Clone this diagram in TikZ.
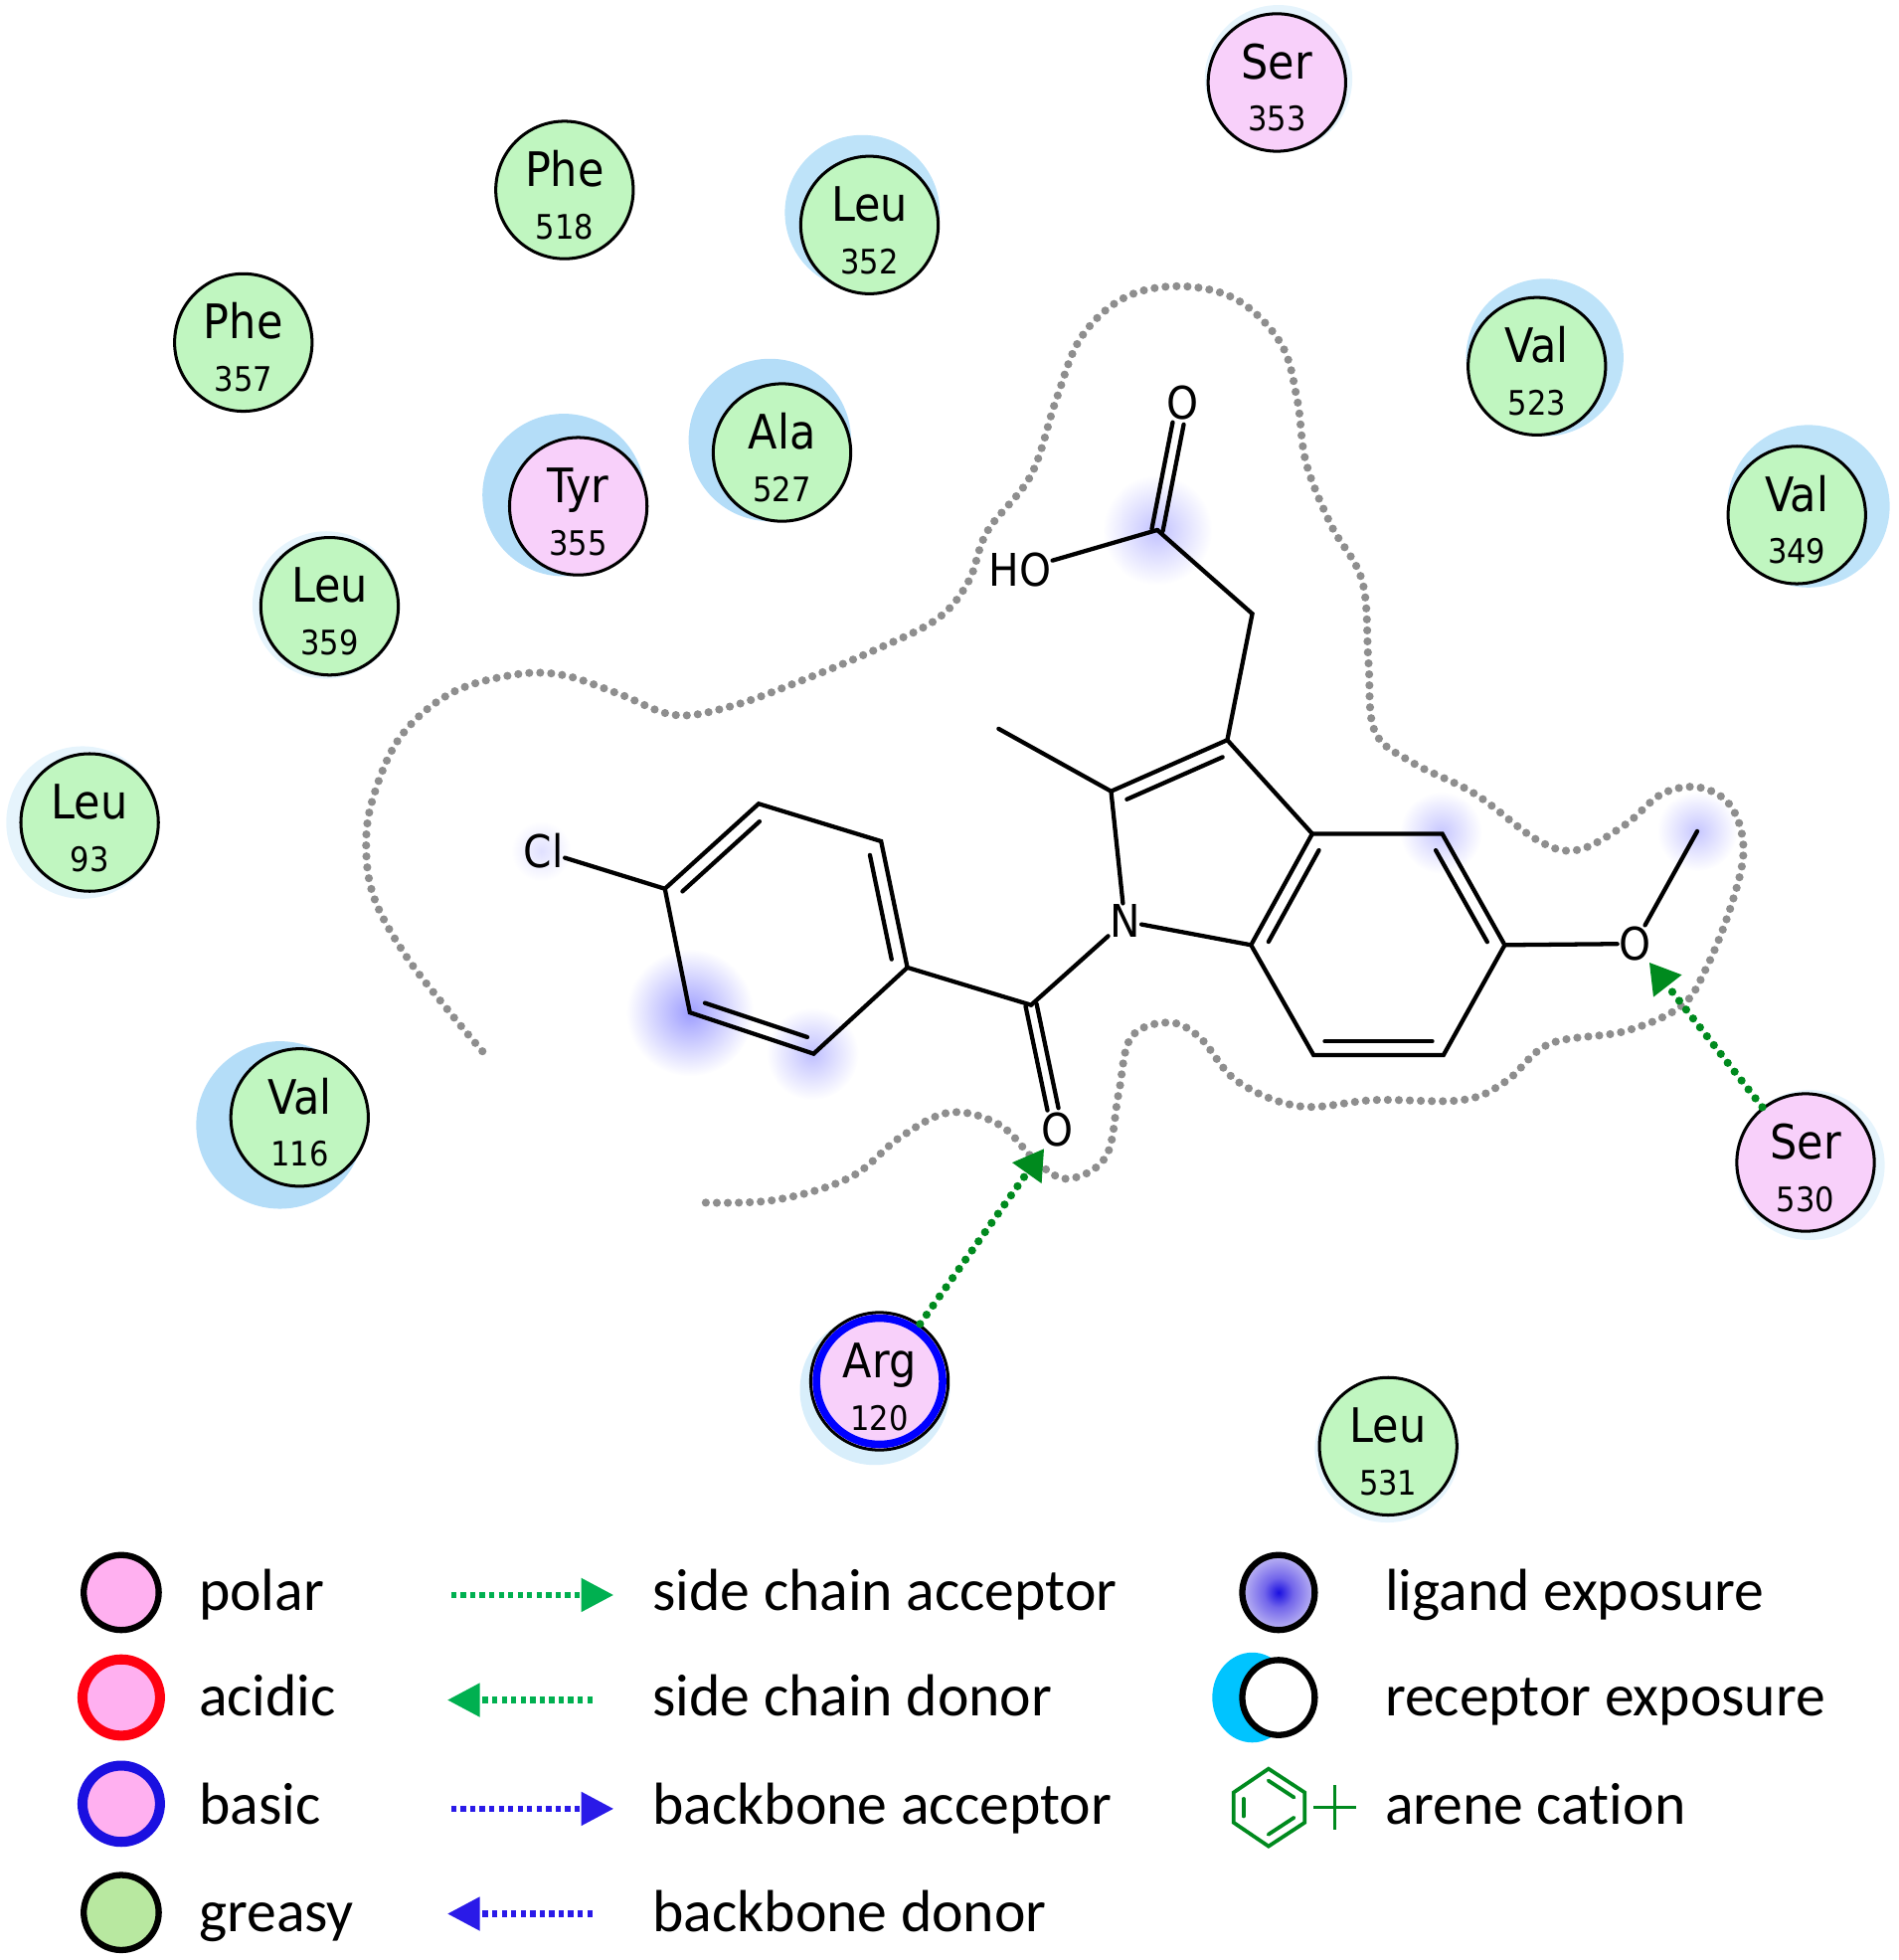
\documentclass[tikz,border=0pt]{standalone}
\usepackage{fontspec}
\setmainfont[Ligatures=NoCommon]{Carlito}
\newfontfamily\labfont{DejaVu Sans Condensed}
\usetikzlibrary{arrows.meta,calc,shapes.geometric}
\definecolor{gre}{HTML}{C0F6C0}
\definecolor{pnk}{HTML}{F8D0FA}
\definecolor{expA}{HTML}{B4DDF8}
\definecolor{expB}{HTML}{BEE3F9}
\definecolor{expC}{HTML}{E6F4FC}
\definecolor{expD}{HTML}{D8EEFB}
\definecolor{legp}{HTML}{FFB0F0}
\definecolor{legg}{HTML}{B8E8A0}
\definecolor{legr}{HTML}{FF0010}
\definecolor{legb}{HTML}{1A10E0}
\definecolor{sgreen}{HTML}{00B050}
\definecolor{sblue}{HTML}{2A1AE8}
\definecolor{dgreen}{HTML}{008A1E}
\definecolor{cont}{HTML}{8E8E8E}
\definecolor{recb}{HTML}{00C4FF}
\pgfdeclareradialshading{ligshade}{\pgfpointorigin}{rgb(0bp)=(0.1,0.06,0.88); rgb(10bp)=(0.45,0.4,0.92); rgb(24bp)=(0.72,0.69,0.95); rgb(50bp)=(0.72,0.69,0.95)}
\tikzset{
 x=1pt,y=-1pt,
 resnode/.style={circle,draw=black,line width=2.4pt,minimum size=110pt,inner sep=0pt},
 resname/.style={font=\labfont\fontsize{38}{40}\selectfont,anchor=base,inner sep=0pt,text=black},
 resnum/.style={font=\labfont\fontsize{27}{30}\selectfont,anchor=base,inner sep=0pt,text=black},
 expo/.style={circle,minimum size=#1,inner sep=0pt},
 blob/.style={circle,minimum size=#1,inner sep=0pt},
 bond/.style={line width=3.4pt,line cap=round},
 atom/.style={font=\labfont\fontsize{36}{38}\selectfont,inner sep=1pt},
 contour/.style={cont,line width=6.5pt,line cap=round,dash pattern=on 0pt off 8.8pt},
 hbond/.style={dgreen,line width=6.5pt,line cap=round,dash pattern=on 0pt off 9pt,
   -{Triangle[length=24pt,width=27pt]}},
 legtext/.style={font=\fontsize{47.5}{50}\selectfont,anchor=base west,inner sep=0pt},
 legcirc/.style={ellipse,draw=black,line width=5pt,minimum width=60pt,minimum height=60pt,inner sep=0pt},
 legcolor/.style={legcirc,line width=8pt,minimum width=62pt,minimum height=61pt},
 legarrow/.style={line width=5pt,dash pattern=on 4.2pt off 3.4pt,-{Triangle[length=26pt,width=26pt]}},
 arene/.style={dgreen,line width=3pt,line cap=round},
}
\newcommand\resid[5]{%
 \node[resnode,fill=#4,#5] (r#2#3) at ([xshift=.7pt]#1) {};
 \node[resname] (n#2#3) at ([yshift=3pt]r#2#3.center) {#2};
 \node[resnum] (i#2#3) at ([yshift=-39pt]r#2#3.center) {#3};
}
\newcommand\innerb[3]{\draw[bond,shorten <=9pt,shorten >=9pt] ($(#1)!#3pt!90:(#2)$) -- ($(#2)!#3pt!-90:(#1)$);}
\newcommand\dblb[2]{%
 \draw[bond,shorten >=17pt] ($(#1)!4.5pt!90:(#2)$) -- ($(#2)!4.5pt!-90:(#1)$);
 \draw[bond,shorten >=17pt] ($(#1)!-4.5pt!90:(#2)$) -- ($(#2)!-4.5pt!-90:(#1)$);}
\begin{document}
\begin{tikzpicture}
\useasboundingbox (0,0) rectangle (1519.4,1568);
% receptor exposure halos
\node[expo=124pt,fill=expB] (e352) at (690,170) {};
\node[expo=126pt,fill=expB] (e523) at (1236,286) {};
\node[expo=130pt,fill=expB] (e349) at (1447,405) {};
\node[expo=130pt,fill=expA] (e355) at (451,396) {};
\node[expo=130pt,fill=expA] (e527) at (616,352) {};
\node[expo=134pt,fill=expA] (e116) at (224,900) {};
\node[expo=122pt,fill=expC] (e93) at (66,658) {};
\node[expo=118pt,fill=expC] (e359) at (261,484) {};
\node[expo=118pt,fill=expC] (e353) at (1023,63) {};
\node[expo=120pt,fill=expC] (e530) at (1448,932) {};
\node[expo=120pt,fill=expD] (e120) at (700,1112) {};
\node[expo=116pt,fill=expC] (e531) at (1110,1160) {};
% ligand exposure blobs
\node[blob=88pt,inner color=blue!24,outer color=white] (b1) at (926,424) {};
\node[blob=102pt,inner color=blue!38,outer color=white] (b2) at (552,810) {};
\node[blob=74pt,inner color=blue!25,outer color=white] (b3) at (650,843) {};
\node[blob=66pt,inner color=blue!22,outer color=white] (b4) at (1153,666) {};
\node[blob=64pt,inner color=blue!22,outer color=white] (b5) at (1358,665) {};
\node[blob=48pt,inner color=blue!12,outer color=white] (b6) at (433,681) {};
% contour
\draw[contour] plot[smooth,tension=0.6] coordinates {
(386,841) (360,810) (325,765) (300,720) (293,680) (298,640) (320,590) (360,555) (410,540) (450,540) (495,555) (540,572) (585,565) (640,545) (700,520) (750,495) (775,465) (790,425) (825,380) (845,320) (865,270) (900,238) (945,229) (990,240) (1025,275) (1038,320) (1045,370) (1065,420) (1090,465) (1095,530) (1100,585) (1130,610) (1180,635) (1230,672) (1262,680) (1300,660) (1330,635) (1360,630) (1385,645) (1395,680) (1385,725) (1365,775) (1345,805) (1300,825) (1240,835) (1205,865) (1170,880) (1100,880) (1040,885) (990,865) (960,830) (935,818) (905,830) (895,875) (885,925) (855,943) (830,930) (800,900) (760,890) (720,910) (680,942) (620,960) (560,962)};
% molecule atoms
\coordinate (c1) at (532,711);
\coordinate (c2) at (607,643);
\coordinate (c3) at (705,673);
\coordinate (c4) at (726,774);
\coordinate (c5) at (651,843);
\coordinate (c6) at (552,810);
\coordinate (cco) at (825,804);
\coordinate (p2) at (889,633);
\coordinate (p3) at (982,592);
\coordinate (me) at (799,583);
\coordinate (a3) at (1050,667);
\coordinate (a7) at (1001,756);
\coordinate (b4c) at (1154,667);
\coordinate (b5c) at (1204,756);
\coordinate (b6c) at (1155,844);
\coordinate (b7c) at (1051,844);
\coordinate (ch2) at (1002,491);
\coordinate (cooh) at (926,424);
\coordinate (ome) at (1358,665);
\node[atom] (cl) at (435,681) {Cl};
\node[atom] (oam) at (846,904) {O};
\node[atom] (nn) at (900,737) {N};
\node[atom] (oe) at (1308,755) {O};
\node[atom] (oac) at (946,322) {O};
\node[atom] (ho) at (816,456) {HO};
% bonds
\draw[bond] (cl) -- (c1);
\draw[bond] (c1) -- (c2) -- (c3) -- (c4) -- (c5) -- (c6) -- (c1);
\innerb{c1}{c2}{-11}
\innerb{c3}{c4}{-11}
\innerb{c5}{c6}{-11}
\draw[bond] (c4) -- (cco);
\draw[bond] (cco) -- (nn);
\dblb{cco}{oam}
\draw[bond] (nn) -- (p2);
\draw[bond] (me) -- (p2) -- (p3) -- (a3) -- (a7) -- (nn);
\innerb{p2}{p3}{-11}
\innerb{a7}{a3}{-11}
\draw[bond] (a3) -- (b4c) -- (b5c) -- (b6c) -- (b7c) -- (a7);
\innerb{b4c}{b5c}{-11}
\innerb{b6c}{b7c}{-11}
\draw[bond] (b5c) -- (oe);
\draw[bond] (oe) -- (ome);
\draw[bond] (p3) -- (ch2) -- (cooh);
\draw[bond] (cooh) -- (ho);
\dblb{cooh}{oac}
% residues
\node[resnode,fill=pnk] (rArg120) at (703.7,1105) {};
\node[circle,draw=blue,line width=6pt,minimum size=101pt,inner sep=0pt] (ringarg) at (rArg120.center) {};
\node[resname] (nArg120) at ([yshift=3pt]rArg120.center) {Arg};
\node[resnum] (iArg120) at ([yshift=-39pt]rArg120.center) {120};
\resid{451,152}{Phe}{518}{gre}{}
\resid{695,180}{Leu}{352}{gre}{}
\resid{1021,66}{Ser}{353}{pnk}{}
\resid{194,274}{Phe}{357}{gre}{}
\resid{1229,293}{Val}{523}{gre}{}
\resid{625,362}{Ala}{527}{gre}{}
\resid{462,405}{Tyr}{355}{pnk}{}
\resid{1437,412}{Val}{349}{gre}{}
\resid{263,485}{Leu}{359}{gre}{}
\resid{71,658}{Leu}{93}{gre}{}
\resid{239,894}{Val}{116}{gre}{}
\resid{1444,930}{Ser}{530}{pnk}{}
\resid{1110,1157}{Leu}{531}{gre}{}
% H-bonds
\draw[hbond] (rArg120) -- (oam);
\draw[hbond] (rSer530) -- (oe);
% legend
\node[legcirc,fill=legp] (l1) at (97,1274) {};
\node[legcolor,fill=legp,draw=legr] (l2) at (97,1358) {};
\node[legcolor,fill=legp,draw=legb] (l3) at (97,1443) {};
\node[legcirc,fill=legg] (l4) at (97,1530) {};
\node[legtext] (t1) at (159,1288) {polar};
\node[legtext] (t2) at (159,1373) {acidic};
\node[legtext] (t3) at (159,1459) {basic};
\node[legtext] (t4) at (159,1545) {greasy};
\coordinate (a1s) at (361,1276); \coordinate (a1e) at (491,1276);
\coordinate (a2s) at (474,1360); \coordinate (a2e) at (358,1360);
\coordinate (a3s) at (361,1447); \coordinate (a3e) at (491,1447);
\coordinate (a4s) at (474,1531); \coordinate (a4e) at (358,1531);
\draw[legarrow,sgreen] (a1s) -- (a1e);
\draw[legarrow,sgreen] (a2s) -- (a2e);
\draw[legarrow,sblue] (a3s) -- (a3e);
\draw[legarrow,sblue] (a4s) -- (a4e);
\node[legtext] (t5) at (522,1288) {side chain acceptor};
\node[legtext] (t6) at (522,1373) {side chain donor};
\node[legtext] (t7) at (522,1459) {backbone acceptor};
\node[legtext] (t8) at (522,1545) {backbone donor};
\node[ellipse,fill=recb,minimum width=64pt,minimum height=72pt,inner sep=0pt] (l6b) at (1002,1358) {};
\node[legcirc,minimum width=58pt,shading=ligshade] (l5) at (1023,1274) {};
\node[legcirc,minimum width=58pt,fill=white] (l6) at (1023,1358) {};
\coordinate (h1) at (1015,1415);
\coordinate (h2) at (1044,1434);
\coordinate (h3) at (1044,1458);
\coordinate (h4) at (1015,1477);
\coordinate (h5) at (987,1458);
\coordinate (h6) at (987,1434);
\draw[arene] (h1) -- (h2) -- (h3) -- (h4) -- (h5) -- (h6) -- cycle;
\draw[arene,shorten <=5pt,shorten >=5pt] ($(h1)!8pt!-90:(h2)$) -- ($(h2)!8pt!90:(h1)$);
\draw[arene,shorten <=5pt,shorten >=5pt] ($(h3)!8pt!-90:(h4)$) -- ($(h4)!8pt!90:(h3)$);
\draw[arene,shorten <=5pt,shorten >=5pt] ($(h5)!8pt!-90:(h6)$) -- ($(h6)!8pt!90:(h5)$);
\coordinate (pl) at (1051,1446); \coordinate (pr) at (1085,1446);
\coordinate (pt) at (1068,1428); \coordinate (pb) at (1068,1464);
\draw[dgreen,line width=2pt] (pl) -- (pr);
\draw[dgreen,line width=2pt] (pt) -- (pb);
\node[legtext] (t9) at (1108,1288) {ligand exposure};
\node[legtext] (t10) at (1108,1373) {receptor exposure};
\node[legtext] (t11) at (1108,1459) {arene cation};
\end{tikzpicture}
\end{document}
